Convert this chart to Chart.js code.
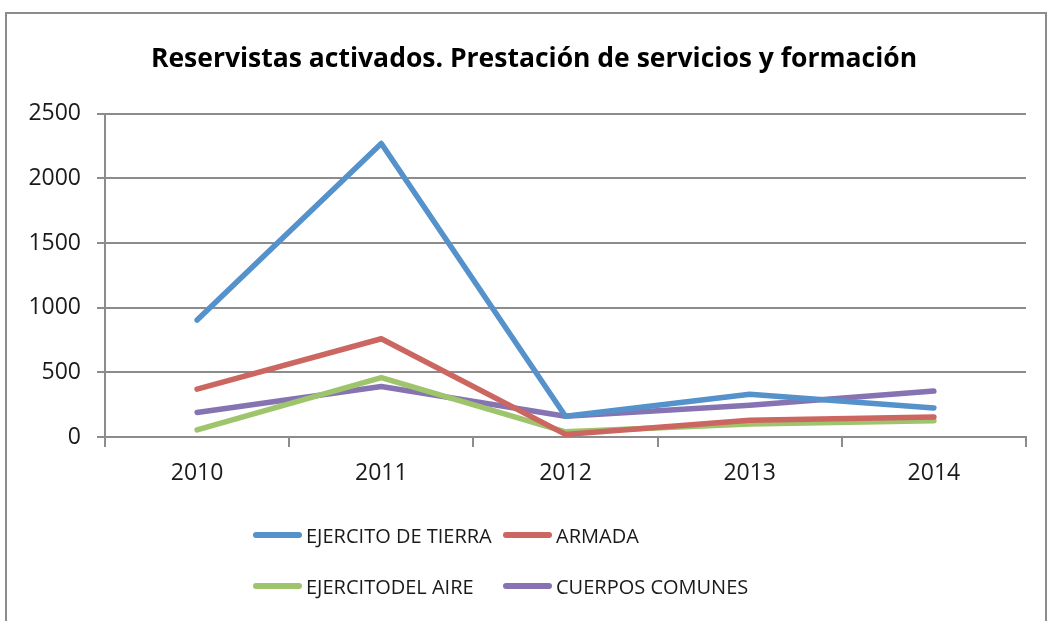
<!DOCTYPE html>
<html>
<head>
<meta charset="utf-8">
<script src="https://cdn.jsdelivr.net/npm/chart.js@4.4.1/dist/chart.umd.min.js"></script>
<style>
  body { margin: 0; background: #fff; }
  #wrap { position: relative; width: 1051px; height: 621px; overflow: hidden; }
  #frame { position: absolute; left: 5px; top: 12px; width: 1042px; height: 700px; border: 2px solid #8c8c8c; box-sizing: border-box; }
  #chart1 { position: absolute; left: 0; top: 0; }
  .leg { position: absolute; display: flex; align-items: center; font-family: "Open Sans", sans-serif; font-size: 20px; color: #1a1a1a; white-space: nowrap; }
  .leg span.sw { display: inline-block; width: 49px; height: 6px; border-radius: 3px; margin-right: 4px; }
</style>
</head>
<body>
<div id="wrap">
  <div id="frame"></div>
  <canvas id="chart1" width="1051" height="621"></canvas>
  <div id="legend"></div>
</div>
<script>
const years = ['2010', '2011', '2012', '2013', '2014'];
const seriesNames = ['EJERCITO DE TIERRA', 'ARMADA', 'EJERCITODEL AIRE', 'CUERPOS COMUNES'];
const tierra = [905, 2270, 160, 330, 225];
const armada = [370, 760, 20, 130, 155];
const aire = [55, 460, 40, 100, 125];
const comunes = [190, 390, 160, 245, 355];
const colors = ['#5592cb', '#cc6660', '#9ec46c', '#8674b2'];

document.addEventListener('DOMContentLoaded', function() {
  const values = [tierra, armada, aire, comunes];

  const datasets = seriesNames.map(function(name, i) {
    return {
      label: name,
      data: values[i],
      borderColor: colors[i],
      backgroundColor: colors[i],
      borderWidth: 5.5,
      pointRadius: 0,
      tension: 0,
      borderCapStyle: 'round',
      borderJoinStyle: 'round'
    };
  });

  // the left padding (for the title centre) would clip the y labels, so widen the y box again
  const unclipY = {
    id: 'unclipY',
    afterLayout: function(chart) { chart.scales.y.left = 0; }
  };

  const ctx = document.getElementById('chart1').getContext('2d');
  new Chart(ctx, {
    type: 'line',
    data: { labels: years, datasets: datasets },
    plugins: [unclipY],
    options: {
      responsive: false,
      animation: false,
      layout: { padding: { left: 42, right: 25, top: 0, bottom: 124 } },
      plugins: {
        legend: { display: false },
        tooltip: { enabled: false },
        title: {
          display: true,
          text: 'Reservistas activados. Prestación de servicios y formación',
          color: '#000',
          font: { family: 'Open Sans', size: 26.5, weight: 'bold', lineHeight: 1.2 },
          padding: { top: 44, bottom: 38 }
        }
      },
      scales: {
        x: {
          offset: true,
          grid: { offset: true, drawOnChartArea: false, color: '#8c8c8c', lineWidth: 2, tickLength: 10 },
          border: { display: true, color: '#8c8c8c', width: 2 },
          ticks: { color: '#1a1a1a', font: { family: 'Open Sans', size: 23 }, padding: 13 },
          afterFit: function(scale) { scale.height = 60; }
        },
        y: {
          min: 0,
          max: 2500,
          ticks: {
            stepSize: 500,
            color: '#1a1a1a',
            font: { family: 'Open Sans', size: 23 },
            padding: 16,
            callback: function(v) { return String(v); }
          },
          grid: { color: '#8c8c8c', lineWidth: 2, tickLength: 8 },
          border: { display: true, color: '#8c8c8c', width: 2 },
          afterFit: function(scale) { scale.width = 63; }
        }
      }
    }
  });

  // legend in two columns, like the original
  const legendPos = [[253, 535], [503, 535], [253, 586], [503, 586]];
  const legend = document.getElementById('legend');
  seriesNames.forEach(function(name, i) {
    const item = document.createElement('div');
    item.className = 'leg';
    item.style.left = legendPos[i][0] + 'px';
    item.style.top = (legendPos[i][1] - 16) + 'px';
    item.style.height = '32px';
    item.innerHTML = '<span class="sw" style="background:' + colors[i] + '"></span>' + name;
    legend.appendChild(item);
  });
});
</script>
</body>
</html>
